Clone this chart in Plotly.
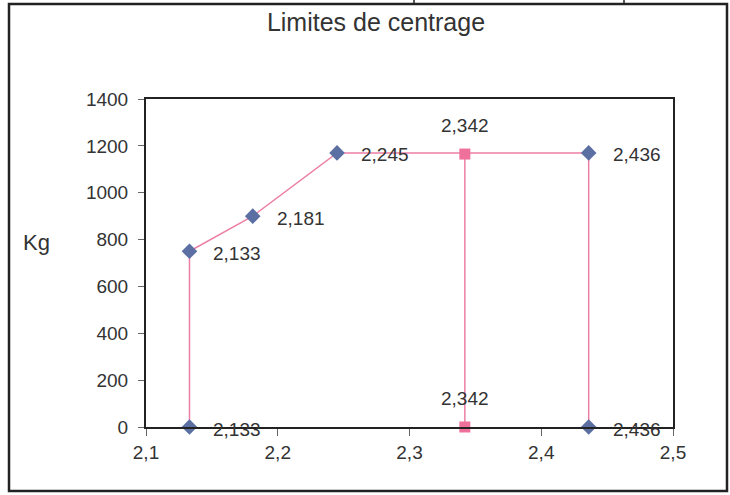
import plotly.graph_objects as go

# Data
env_x = [2.133, 2.133, 2.181, 2.245, 2.436, 2.436]
env_y = [0, 750, 900, 1170, 1170, 0]
env_labels = ["2,133", "2,133", "2,181", "2,245", "2,436", "2,436"]

cg_x = [2.342, 2.342]
cg_y = [1165, 0]
cg_labels = ["2,342", "2,342"]

x_ticks = [2.1, 2.2, 2.3, 2.4, 2.5]
x_ticktext = ["2,1", "2,2", "2,3", "2,4", "2,5"]
y_ticks = [0, 200, 400, 600, 800, 1000, 1200, 1400]

font_family = "Liberation Sans, Arial, sans-serif"
txt_color = "#333333"
pink = "#ec7fa6"

W, H = 730, 495
L, R, T, B = 146, 57, 99, 68
pw, ph = W - L - R, H - T - B

def px(xp):
    return (xp - L) / pw

def py(yp):
    return (H - B - yp) / ph

fig = go.Figure()
fig.add_trace(go.Scatter(
    x=env_x, y=env_y, mode="lines+markers",
    line=dict(color=pink, width=1.5),
    marker=dict(symbol="diamond", size=12, color="#5b6fa3"),
    showlegend=False, hoverinfo="x+y", cliponaxis=False))
fig.add_trace(go.Scatter(
    x=cg_x, y=cg_y, mode="lines+markers",
    line=dict(color=pink, width=1.5),
    marker=dict(symbol="square", size=11, color="#f0709c"),
    showlegend=False, hoverinfo="x+y", cliponaxis=False))

annotations = []
for x, y, t in zip(env_x, env_y, env_labels):
    annotations.append(dict(x=x, y=y, xref="x", yref="y", text=t, showarrow=False,
                            xanchor="left", yanchor="middle", xshift=22, yshift=-2,
                            font=dict(size=19, color=txt_color, family=font_family)))
for x, y, t in zip(cg_x, cg_y, cg_labels):
    annotations.append(dict(x=x, y=y, xref="x", yref="y", text=t, showarrow=False,
                            xanchor="center", yanchor="bottom", yshift=16,
                            font=dict(size=19, color=txt_color, family=font_family)))
annotations.append(dict(x=px(36), y=py(243), xref="paper", yref="paper", text="Kg",
                        showarrow=False, xanchor="center", yanchor="middle",
                        font=dict(size=22, color=txt_color, family=font_family)))

fig.update_layout(
    width=W, height=H,
    margin=dict(l=L, r=R, t=T, b=B),
    paper_bgcolor="white", plot_bgcolor="white",
    font=dict(family=font_family, size=19, color=txt_color),
    title=dict(text="Limites de centrage", x=(376 - L) / pw, xref="paper", xanchor="center",
               y=1 - 22 / H, yanchor="middle",
               font=dict(size=25, color=txt_color, family=font_family)),
    xaxis=dict(range=[2.1, 2.5], tickvals=x_ticks, ticktext=x_ticktext,
               showgrid=False, zeroline=False, showline=True, linecolor="#222", linewidth=2,
               mirror=True, ticks="outside", ticklen=7, tickcolor="#666",
               tickfont=dict(size=19, color=txt_color)),
    yaxis=dict(range=[0, 1400], tickvals=y_ticks, showgrid=False, zeroline=False,
               showline=True, linecolor="#222", linewidth=2, mirror=True,
               ticks="outside", ticklen=6, tickcolor="#666", ticklabelstandoff=6,
               tickfont=dict(size=19, color=txt_color)),
    annotations=annotations,
)

# Scanned page frame lines
fig.add_shape(type="rect", xref="paper", yref="paper",
              x0=px(9), x1=px(727), y0=py(491), y1=py(4),
              line=dict(color="#222", width=2.5), fillcolor="rgba(0,0,0,0)", layer="below")
for xp in [414, 624]:
    fig.add_shape(type="line", xref="paper", yref="paper",
                  x0=px(xp), x1=px(xp), y0=py(4), y1=py(0),
                  line=dict(color="#222", width=1.5))

fig.write_html("out.html", config={"displayModeBar": False},
               post_script="document.body.style.margin='0';")
